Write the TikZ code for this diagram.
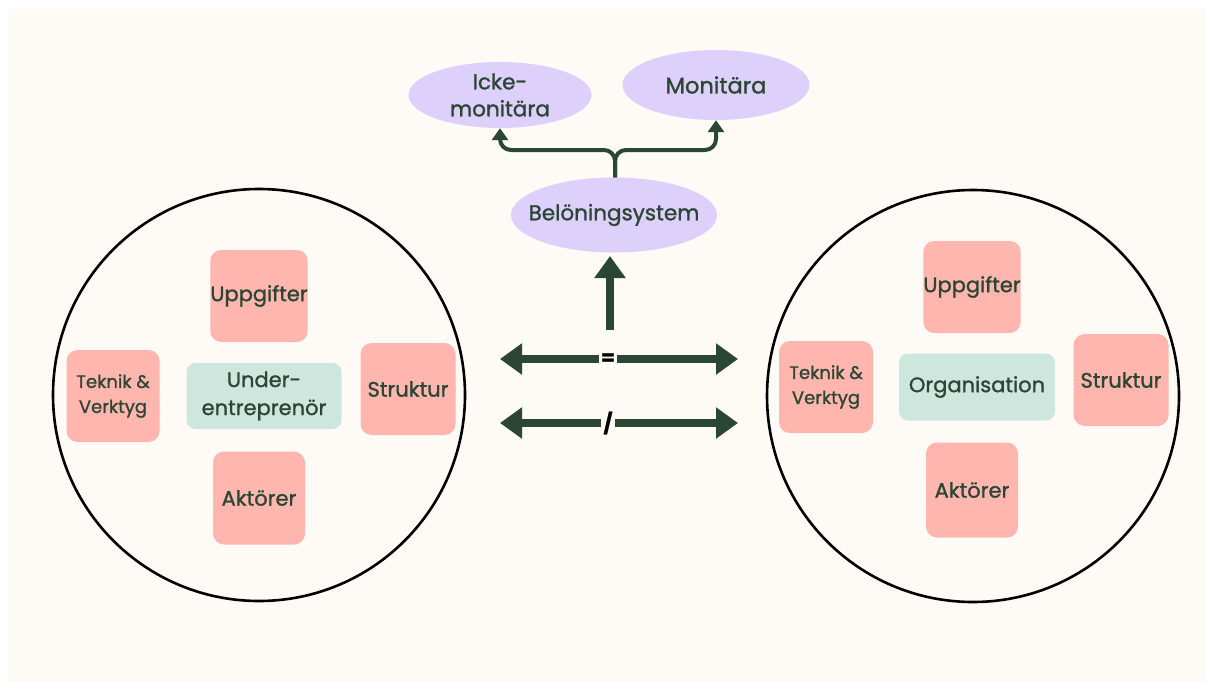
\documentclass[tikz,border=0pt]{standalone}
\usepackage{fontspec}
\setmainfont{Poppins}[FakeBold=1.2]
\usetikzlibrary{arrows.meta,shapes.geometric}
\definecolor{cream}{HTML}{FEFAF6}
\definecolor{ink}{HTML}{2C4636}
\definecolor{pinkbox}{HTML}{FFB6AE}
\definecolor{mintbox}{HTML}{CDE7DF}
\definecolor{lilac}{HTML}{DDD0FA}
\tikzset{
  bigcircle/.style={circle,draw=black,line width=2.6pt,minimum size=412pt,inner sep=0pt},
  pinknode/.style={fill=pinkbox,rounded corners=11pt,minimum width=94pt,minimum height=92pt,inner sep=0pt,text=ink,font=\fontsize{21}{26}\selectfont,align=center},
  smallpink/.style={pinknode,font=\fontsize{18}{25}\selectfont},
  mintnode/.style={fill=mintbox,rounded corners=9pt,minimum width=155pt,minimum height=66pt,inner sep=0pt,text=ink,font=\fontsize{21}{28}\selectfont,align=center},
  lilacnode/.style={ellipse,fill=lilac,inner sep=0pt,text=ink,font=\fontsize{21.5}{27}\selectfont,align=center},
  thinarrow/.style={draw=ink,line width=4pt,rounded corners=11pt,-{Triangle[length=12pt,width=16pt]}},
  thickarrow/.style={draw=ink,line width=8pt,-{Triangle[length=22pt,width=30pt]}},
  sign/.style={text=black,font=\fontsize{20}{20}\selectfont\bfseries,inner sep=2pt}
}
\begin{document}
\begin{tikzpicture}[x=1pt,y=-1pt]
\useasboundingbox (0,0) rectangle (1206,682);
\fill[white] (0,0) rectangle (1206,682);
\fill[cream] (8,9) rectangle (1206,682);

% circles
\node[bigcircle] (lc) at (259,395) {};
\node[bigcircle] (rc) at (973,396) {};

% left group
\node[pinknode] (lup) at (259,296) {Uppgifter};
\node[smallpink,minimum width=93pt] (ltek) at (113,396) {Teknik \&\\Verktyg};
\node[mintnode] (lmid) at (264,396) {Under-\\entreprenör};
\node[pinknode,minimum width=95pt] (lstr) at (408,389) {Struktur};
\node[pinknode,minimum width=92pt,minimum height=93pt] (lakt) at (259,498) {Aktörer};

% right group
\node[pinknode] (rup) at (972,287) {Uppgifter};
\node[smallpink] (rtek) at (826,387) {Teknik \&\\Verktyg};
\node[mintnode,minimum width=156pt,minimum height=67pt] (rmid) at (977,387) {Organisation};
\node[pinknode,minimum width=95pt] (rstr) at (1121,380) {Struktur};
\node[pinknode,minimum width=92pt,minimum height=95pt] (rakt) at (972,490) {Aktörer};

% top ellipses
\node[lilacnode,minimum width=183pt,minimum height=66pt] (icke) at (500,95) {Icke-\\monitära};
\node[lilacnode,minimum width=187pt,minimum height=70pt,font=\fontsize{22.5}{27}\selectfont] (mon) at (716,85) {\makebox[0pt]{Monitära}};
\node[lilacnode,minimum width=206pt,minimum height=75pt] (bel) at (614,215) {\makebox[0pt]{Belöningsystem}};

% branch connector
\coordinate (split) at (615,150);
\draw[thinarrow] (bel.north -| split) -- (split) -| (icke.south);
\draw[thinarrow] (bel.north -| split) -- (split) -| (mon.south);

% middle arrows
\coordinate (upstart) at (610,330);
\draw[thickarrow] (upstart) -- (610,256);

\node[sign] (eq) at (608,359) {=};
\coordinate (eqL) at (500,359);
\coordinate (eqR) at (738,359);
\draw[thickarrow] (eq.west) -- (eqL);
\draw[thickarrow] (eq.east) -- (eqR);

\node[sign] (ne) at (608,423) {/};
\coordinate (neL) at (500,423);
\coordinate (neR) at (738,423);
\draw[thickarrow] (ne.west) -- (neL);
\draw[thickarrow] (ne.east) -- (neR);
\end{tikzpicture}
\end{document}
